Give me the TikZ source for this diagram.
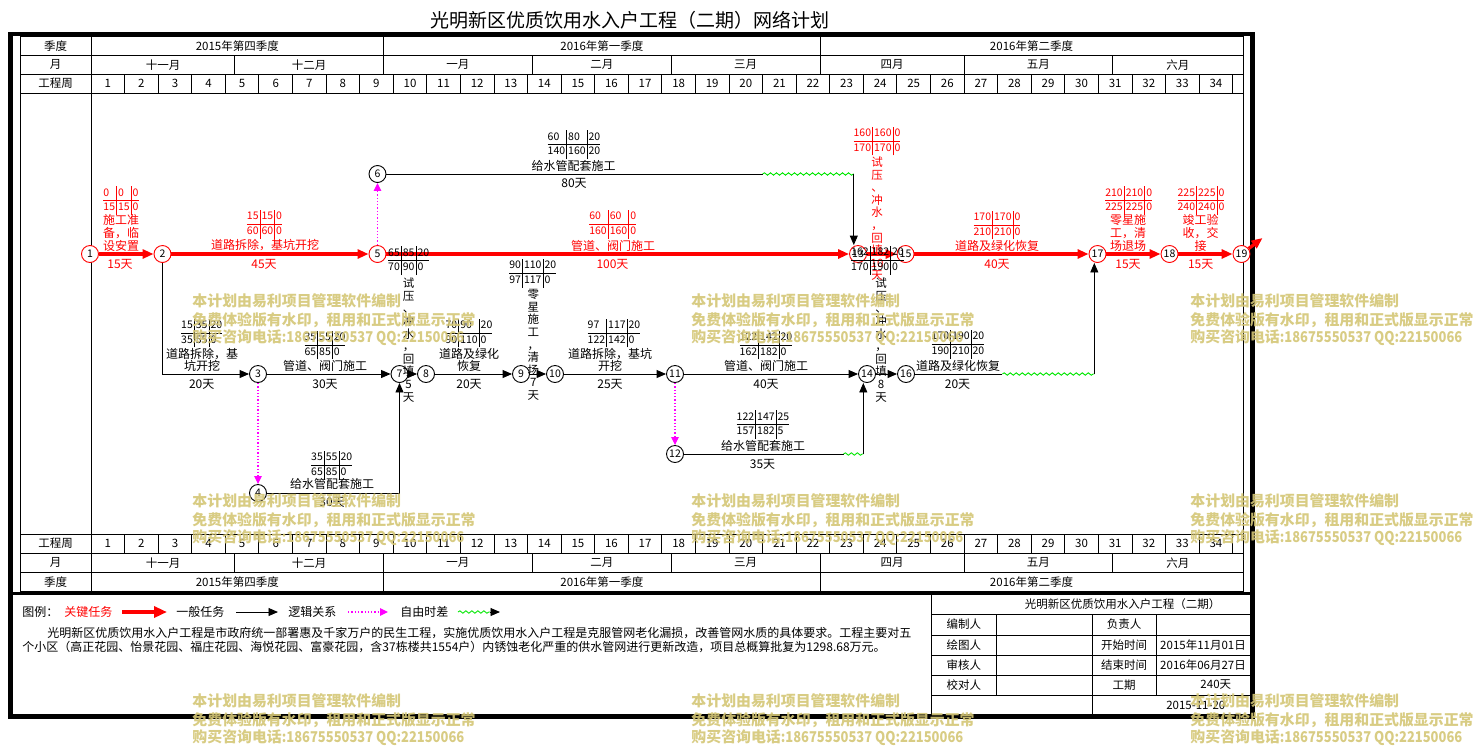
\documentclass[tikz,border=0pt]{standalone}
\usepackage{fontspec}
\usepackage{graphicx}
\setmainfont{Noto Sans CJK SC}
\usetikzlibrary{positioning,arrows.meta,decorations.pathmorphing}

\definecolor{crit}{RGB}{255,0,0}
\definecolor{slack}{RGB}{0,230,0}
\definecolor{dummy}{RGB}{255,0,255}
\definecolor{wmark}{RGB}{212,198,118}

\setlength{\tabcolsep}{1.5pt}
\setlength{\arrayrulewidth}{0.8pt}
% six time fields: ES LS TF / EF LF FF
\newcommand{\tfbox}[6]{\begin{tabular}{@{}l|l|l@{}}#1&#2&#3\\\hline#4&#5&#6\end{tabular}}

\begin{document}
\begin{tikzpicture}[x=1pt, y=-1pt, line width=0.9pt,
  evt/.style={circle, draw, fill=white, minimum size=17pt, inner sep=0pt,
              font=\fontsize{10.5}{12}\selectfont},
  critevt/.style={evt, draw=crit},
  task/.style={-{Triangle[length=9.5pt,width=8pt]}},
  crittask/.style={color=crit, line width=3.3pt, -{Triangle[length=11pt,width=9pt]}},
  dummytask/.style={color=dummy, line width=1.2pt, dash pattern=on 1.3pt off 2pt,
                    -{Triangle[length=8pt,width=7.5pt]}},
  free/.style={color=slack, decorate, decoration={snake, segment length=6pt, amplitude=1.2pt}},
  tf/.style={font=\fontsize{10.5}{14}\selectfont, inner sep=0pt},
  lbl/.style={font=\fontsize{12}{12.7}\selectfont, inner sep=0pt, align=center},
  vlbl/.style={font=\fontsize{11.5}{12.6}\selectfont, inner sep=0pt, align=center},
  hdr/.style={font=\fontsize{11.5}{12}\selectfont, inner sep=0pt},
  leg/.style={font=\fontsize{12}{13.4}\selectfont, inner sep=0pt},
  wmk/.style={text=wmark, opacity=0.9, font=\fontsize{14.9}{18}\selectfont\bfseries,
              inner sep=0pt, anchor=west}
]
\useasboundingbox (0,0) rectangle (1474,745);

% title
\node[font=\fontsize{19}{20}\selectfont, inner sep=0pt] (title) at (630,20)
  {光明新区优质饮用水入户工程（二期）网络计划};

% frame
\draw[line width=4.5pt] (10.5,34) rectangle (1252.5,716.5);
\draw[line width=3pt] (10.5,593.8) -- (1252.5,593.8);
\draw (20,36.5) rectangle (1243,591.5);
\draw (91,36.5) -- (91,591.5);
\foreach \ry in {55.3,74,93.3,534,553.3,572.3}
  \draw (20,\ry) -- (1243,\ry);
\foreach \w in {1,...,34} {
  \draw ({91+\w*33.58},74) -- ++(0,19.3);
  \draw ({91+\w*33.58},534) -- ++(0,19.3);
  \node[hdr] (wt\w) at ({91+(\w-0.5)*33.58},83.7) {\w};
  \node[hdr] (wb\w) at ({91+(\w-0.5)*33.58},543.7) {\w};
}
\foreach \mx in {234.9,383.6,532.3,671.4,820.1,964,1112.7} {
  \draw (\mx,55.3) -- (\mx,74);
  \draw (\mx,553.3) -- (\mx,572.3);
}
\foreach \qx in {383.6,820.1} {
  \draw (\qx,36.5) -- (\qx,55.3);
  \draw (\qx,572.3) -- (\qx,591.5);
}
\foreach \mx/\mn [count=\i] in {163/十一月,309.2/十二月,457.9/一月,601.8/二月,
    745.7/三月,892/四月,1038.3/五月,1177.8/六月} {
  \node[hdr] (mt\i) at (\mx,64.7) {\mn};
  \node[hdr] (mb\i) at (\mx,562.8) {\mn};
}
\foreach \qx/\qn [count=\i] in {237.3/2015年第四季度,601.9/2016年第一季度,1031.5/2016年第二季度} {
  \node[hdr] (qt\i) at (\qx,46) {\qn};
  \node[hdr] (qb\i) at (\qx,582) {\qn};
}
\node[hdr] (hq) at (55.5,46) {季度};
\node[hdr] (hm) at (55.5,64.7) {月};
\node[hdr] (hw) at (55.5,83.7) {工程周};
\node[hdr] (fw) at (55.5,543.7) {工程周};
\node[hdr] (fm) at (55.5,562.8) {月};
\node[hdr] (fq) at (55.5,582) {季度};

% events
\node[critevt] (e1)  at (90,254)     {1};
\node[critevt] (e2)  at (162.5,254)  {2};
\node[critevt] (e5)  at (377.5,254)  {5};
\node[evt]     (e6)  at (377.5,174)  {6};
\node[critevt] (e13) at (858,254)    {13};
\node[critevt] (e15) at (905.5,254)  {15};
\node[critevt] (e17) at (1097.5,254) {17};
\node[critevt] (e18) at (1169.5,254) {18};
\node[critevt] (e19) at (1241.5,254) {19};
\node[evt] (e3)  at (258,374)   {3};
\node[evt] (e4)  at (258,493)   {4};
\node[evt] (e7)  at (399.5,374) {7};
\node[evt] (e8)  at (426,374)   {8};
\node[evt] (e9)  at (521,374)   {9};
\node[evt] (e10) at (555,374)   {10};
\node[evt] (e11) at (675,374)   {11};
\node[evt] (e12) at (675,454)   {12};
\node[evt] (e14) at (867,374)   {14};
\node[evt] (e16) at (906,374)   {16};

% critical path
\coordinate (fin) at (1262.5,238);
\draw[crittask] (e1) -- (e2);
\draw[crittask] (e2) -- (e5);
\draw[crittask] (e5) -- (e13);
\draw[crittask] (e13) -- (e15);
\draw[crittask] (e15) -- (e17);
\draw[crittask] (e17) -- (e18);
\draw[crittask] (e18) -- (e19);
\draw[crittask] (e19) -- (fin);

% other tasks
\coordinate (f613) at (762.6,174);
\coordinate (k613) at (853.8,174);
\draw[dummytask] (e5) -- (e6);
\draw (e6) -- (f613);
\draw[free] (f613) -- (k613);
\draw[task] (k613) -- (k613 |- e13.north);

\draw[task] (e2) |- (e3);
\draw[task] (e3) -- (e7);
\draw[dummytask] (e3) -- (e4);
\draw[task] (e4) -| (e7);
\draw[task] (e7) -- (e8);
\draw[task] (e8) -- (e9);
\draw[task] (e9) -- (e10);
\draw[task] (e10) -- (e11);
\draw[task] (e11) -- (e14);
\draw[dummytask] (e11) -- (e12);

\coordinate (f1214) at (843.5,454);
\coordinate (k1214) at (863.3,454);
\draw (e12) -- (f1214);
\draw[free] (f1214) -- (k1214);
\draw[task] (k1214) -- (k1214 |- e14.south);
\draw[task] (e14) -- (e16);

\coordinate (f1617) at (1002.4,374);
\coordinate (k1617) at (1094.3,374);
\draw (e16) -- (f1617);
\draw[free] (f1617) -- (k1617);
\draw[task] (k1617) -- (k1617 |- e17.south);

% labels, critical
\node[tf, text=crit] (t12) at (121,200.7) {\tfbox{0}{0}{0}{15}{15}{0}};
\node[lbl, text=crit] (n12) at (121,233) {施工准\\备，临\\设安置};
\node[lbl, text=crit] (d12) at (120,264) {15天};
\node[tf, text=crit] (t25) at (264.5,224.5) {\tfbox{15}{15}{0}{60}{60}{0}};
\node[lbl, text=crit] (n25) at (265,245.5) {道路拆除，基坑开挖};
\node[lbl, text=crit] (d25) at (264,264.3) {45天};
\node[tf, text=crit] (t513) at (612.7,224.5) {\tfbox{60}{60}{0}{160}{160}{0}};
\node[lbl, text=crit] (n513) at (613,245.5) {管道、阀门施工};
\node[lbl, text=crit] (d513) at (612.5,264.3) {100天};
\node[tf, text=crit] (t1315) at (877,141) {\tfbox{160}{160}{0}{170}{170}{0}};
\node[vlbl, text=crit] (v1315) at (877,218.8) {试\\压\\、\\冲\\水\\，\\回\\填\\10\\天};
\node[tf, text=crit] (t1517) at (997,225) {\tfbox{170}{170}{0}{210}{210}{0}};
\node[lbl, text=crit] (n1517) at (997,245.5) {道路及绿化恢复};
\node[lbl, text=crit] (d1517) at (997,264.3) {40天};
\node[tf, text=crit] (t1718) at (1128.7,200.7) {\tfbox{210}{210}{0}{225}{225}{0}};
\node[lbl, text=crit] (n1718) at (1128,233) {零星施\\工，清\\场退场};
\node[lbl, text=crit] (d1718) at (1128,264.3) {15天};
\node[tf, text=crit] (t1819) at (1201,200.7) {\tfbox{225}{225}{0}{240}{240}{0}};
\node[lbl, text=crit] (n1819) at (1200.7,233) {竣工验\\收，交\\接};
\node[lbl, text=crit] (d1819) at (1200.7,264.3) {15天};

% labels, other
\node[tf] (t613) at (574,144.7) {\tfbox{60}{80}{20}{140}{160}{20}};
\node[lbl] (n613) at (573.7,166) {给水管配套施工};
\node[lbl] (d613) at (574,183.3) {80天};
\node[tf] (t23) at (201.7,333) {\tfbox{15}{35}{20}{35}{55}{0}};
\node[lbl, font=\fontsize{12}{12}\selectfont] (n23) at (202,360) {道路拆除，基\\坑开挖};
\node[lbl] (d23) at (201.7,384) {20天};
\node[tf] (t37) at (325,345) {\tfbox{35}{55}{20}{65}{85}{0}};
\node[lbl] (n37) at (325,366) {管道、阀门施工};
\node[lbl] (d37) at (325,384) {30天};
\node[tf] (t47) at (331.7,465.2) {\tfbox{35}{55}{20}{65}{85}{0}};
\node[lbl] (n47) at (332,484) {给水管配套施工};
\node[lbl] (d47) at (332,502.7) {30天};
\node[tf] (t78) at (408.7,260.7) {\tfbox{65}{85}{20}{70}{90}{0}};
\node[vlbl] (v78) at (408.5,340) {试\\压\\、\\冲\\水\\，\\回\\填\\5\\天};
\node[tf] (t89) at (469,333) {\tfbox{70}{90}{20}{90}{110}{0}};
\node[lbl, font=\fontsize{12}{12}\selectfont] (n89) at (469,360) {道路及绿化\\恢复};
\node[lbl] (d89) at (469,384) {20天};
\node[tf] (t910) at (532.8,273.2) {\tfbox{90}{110}{20}{97}{117}{0}};
\node[vlbl] (v910) at (533.3,345) {零\\星\\施\\工\\，\\清\\场\\7\\天};
\node[tf] (t1011) at (614,333) {\tfbox{97}{117}{20}{122}{142}{0}};
\node[lbl, font=\fontsize{12}{12}\selectfont] (n1011) at (610,360) {道路拆除，基坑\\开挖};
\node[lbl] (d1011) at (610,384) {25天};
\node[tf] (t1114) at (766,345) {\tfbox{122}{142}{20}{162}{182}{0}};
\node[lbl] (n1114) at (766,366) {管道、阀门施工};
\node[lbl] (d1114) at (766,384) {40天};
\node[tf] (t1214) at (763,424.7) {\tfbox{122}{147}{25}{157}{182}{5}};
\node[lbl] (n1214) at (763,445.7) {给水管配套施工};
\node[lbl] (d1214) at (762.5,464) {35天};
\node[tf] (t1416) at (877.5,260.2) {\tfbox{162}{182}{20}{170}{190}{0}};
\node[vlbl] (v1416) at (881,340) {试\\压\\、\\冲\\水\\，\\回\\填\\8\\天};
\node[tf] (t1617) at (958,344.3) {\tfbox{170}{190}{20}{190}{210}{20}};
\node[lbl] (n1617) at (958,366) {道路及绿化恢复};
\node[lbl] (d1617) at (957.5,384.3) {20天};

% legend
\node[leg, anchor=west] (lg0) at (22,612) {图例：};
\node[leg, anchor=west, text=crit] (lg1) at (64,612) {关键任务};
\node[leg, anchor=west] (lg2) at (176,612) {一般任务};
\node[leg, anchor=west] (lg3) at (288,612) {逻辑关系};
\node[leg, anchor=west] (lg4) at (400,612) {自由时差};
\coordinate (lk1a) at (122,612); \coordinate (lk1b) at (167,612);
\coordinate (lk2a) at (236,612); \coordinate (lk2b) at (278,612);
\coordinate (lk3a) at (348,612); \coordinate (lk3b) at (388,612);
\coordinate (lk4a) at (458,612); \coordinate (lk4b) at (490,612);
\coordinate (lk4c) at (500,612);
\draw[crittask, line width=4.5pt, -{Triangle[length=13pt,width=11pt]}] (lk1a) -- (lk1b);
\draw[task] (lk2a) -- (lk2b);
\draw[dummytask] (lk3a) -- (lk3b);
\draw[free] (lk4a) -- (lk4b);
\draw[task] (lk4b) -- (lk4c);
\node[leg, anchor=north west, align=left] (desc) at (22,627)
  {\hspace*{25pt}光明新区优质饮用水入户工程是市政府统一部署惠及千家万户的民生工程，实施优质饮用水入户工程是克服管网老化漏损，改善管网水质的具体要求。工程主要对五\\
   个小区（高正花园、怡景花园、福庄花园、海悦花园、富豪花园，含37栋楼共1554户）内锈蚀老化严重的供水管网进行更新改造，项目总概算批复为1298.68万元。};

% title block
\draw (931.7,593.8) -- (931.7,716.5);
\foreach \ty in {614,635,655,675,695}
  \draw (931.7,\ty) -- (1252.5,\ty);
\draw (996,614) -- (996,695);
\draw (1092.3,614) -- (1092.3,716.5);
\draw (1156,614) -- (1156,695);
\node[hdr] (tbt)  at (1122.5,604)  {光明新区优质饮用水入户工程（二期）};
\node[hdr] (tb11) at (963.8,624.5) {编制人};
\node[hdr] (tb13) at (1124.2,624.5) {负责人};
\node[hdr] (tb21) at (963.8,645)   {绘图人};
\node[hdr] (tb23) at (1124.2,645)  {开始时间};
\node[hdr] (tb24) at (1203,645)    {2015年11月01日};
\node[hdr] (tb31) at (963.8,665)   {审核人};
\node[hdr] (tb33) at (1124.2,665)  {结束时间};
\node[hdr] (tb34) at (1203,665)    {2016年06月27日};
\node[hdr] (tb41) at (963.8,685)   {校对人};
\node[hdr] (tb43) at (1124.2,685)  {工期};
\node[hdr] (tb44) at (1215.8,685)  {240天};
\node[hdr] (tb54) at (1195.8,705)  {2015-11-20};

% watermark
\foreach \wx in {192,691,1190} {
  \foreach \wy in {301,501,701} {
    \node[wmk] (wa\wx\wy) at (\wx,\wy)      {本计划由易利项目管理软件编制};
    \node[wmk] (wb\wx\wy) at (\wx,\wy+18.7) {免费体验版有水印，租用和正式版显示正常};
    \node[wmk] (wc\wx\wy) at (\wx,\wy+37)   {购买咨询电话\scalebox{0.87}[1]{:18675550537 QQ:22150066}};
  }
}
\end{tikzpicture}
\end{document}
